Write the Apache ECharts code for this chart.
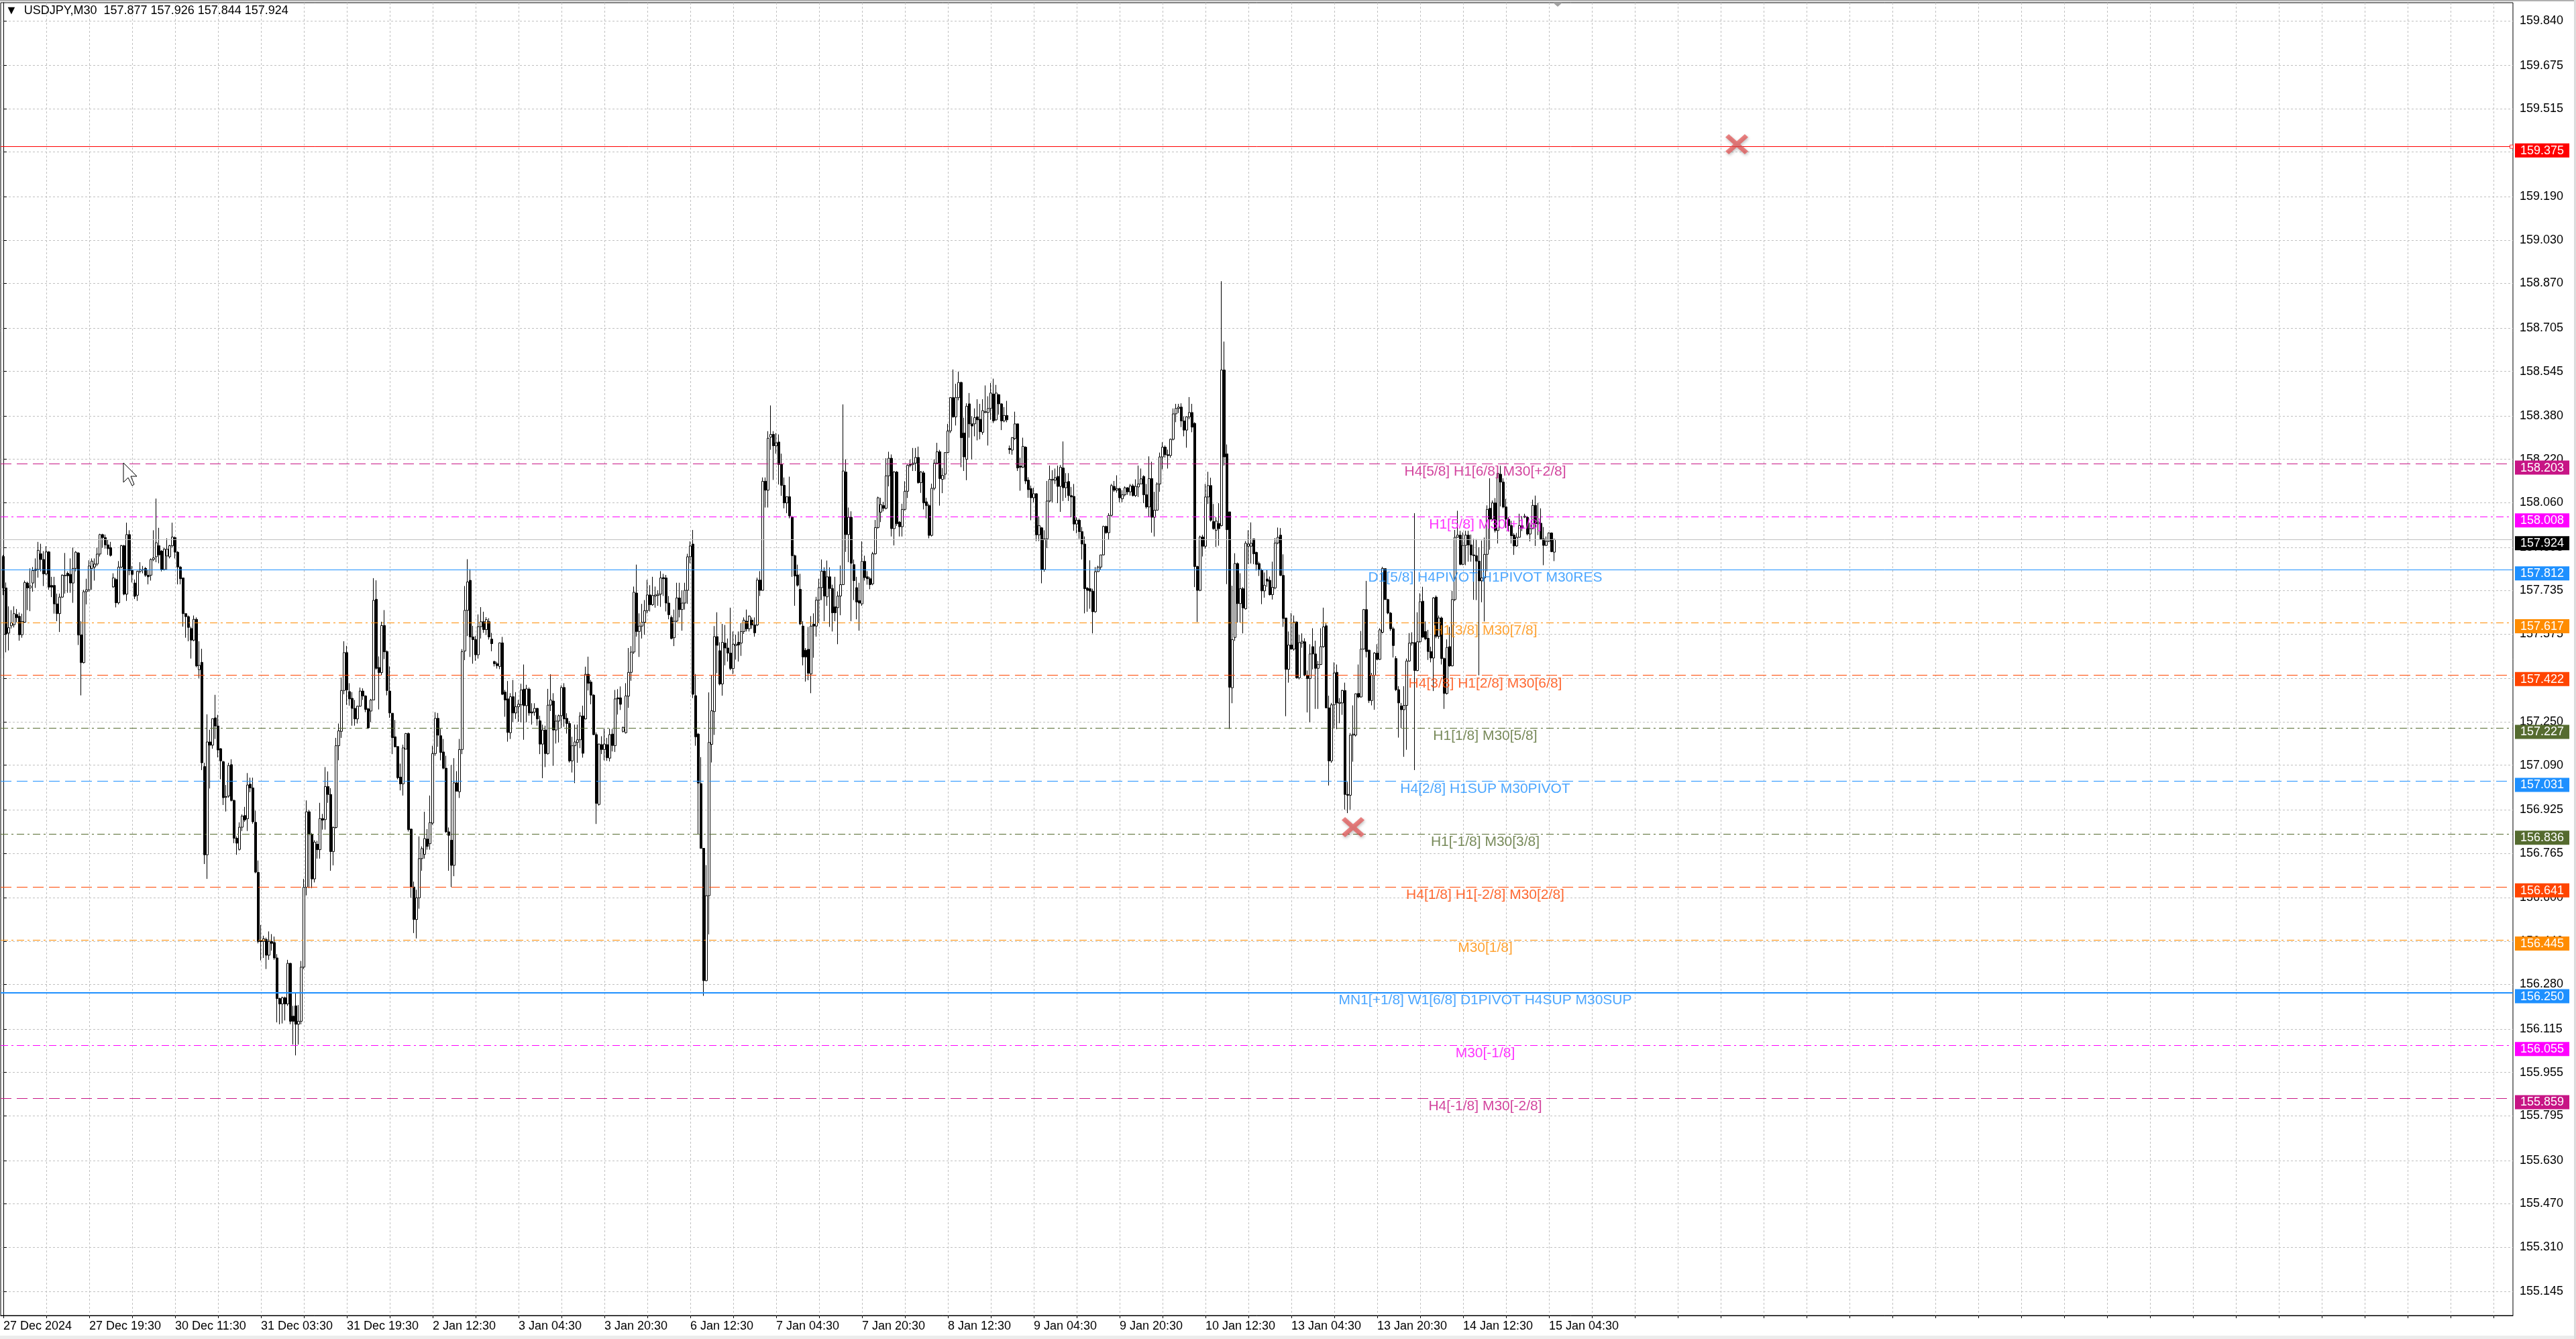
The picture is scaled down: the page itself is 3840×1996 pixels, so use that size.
<!DOCTYPE html>
<html>
<head>
<meta charset="utf-8">
<title>USDJPY,M30</title>
<script src="https://cdn.jsdelivr.net/npm/echarts@6.0.0/dist/echarts.min.js"></script>
<style>
  html, body { margin: 0; padding: 0; background: #fff; }
  #chart { width: 3840px; height: 1996px; }
</style>
</head>
<body>
<div id="chart"></div>
<script>
// M30 bars, one per row item: [open, close, low, high]
var candles = [
  // 27 Dec
  [157.861,157.745,157.718,157.867],[157.745,157.575,157.507,157.765],[157.578,157.598,157.514,157.677],[157.605,157.616,157.595,157.663],
  [157.609,157.650,157.599,157.677],[157.647,157.635,157.618,157.667],[157.640,157.572,157.550,157.654],[157.572,157.621,157.561,157.650],
  [157.618,157.765,157.616,157.772],[157.763,157.745,157.663,157.768],[157.745,157.752,157.659,157.817],[157.763,157.809,157.731,157.822],
  [157.809,157.814,157.745,157.854],[157.813,157.884,157.783,157.915],[157.871,157.850,157.806,157.908],[157.850,157.797,157.752,157.881],
  [157.797,157.878,157.792,157.899],[157.878,157.748,157.738,157.881],[157.754,157.748,157.711,157.786],[157.754,157.686,157.650,157.786],
  [157.686,157.650,157.622,157.724],[157.650,157.711,157.582,157.724],[157.711,157.792,157.708,157.795],[157.790,157.792,157.724,157.874],
  [157.799,157.790,157.727,157.806],[157.795,157.763,157.727,157.854],[157.763,157.817,157.690,157.894],[157.817,157.877,157.806,157.881],
  [157.874,157.571,157.534,157.877],[157.571,157.469,157.348,157.622],[157.469,157.731,157.466,157.738],[157.731,157.738,157.684,157.779],
  [157.738,157.826,157.731,157.847],[157.817,157.844,157.738,157.854],[157.822,157.833,157.772,157.854],[157.833,157.870,157.826,157.894],
  [157.870,157.942,157.861,157.945],[157.942,157.931,157.894,157.945],[157.931,157.904,157.890,157.942],[157.904,157.890,157.867,157.922],
  [157.894,157.865,157.861,157.915],[157.749,157.782,157.745,157.799],[157.776,157.690,157.673,157.782],[157.690,157.822,157.684,157.844],
  // 30 Dec
  [157.822,157.901,157.817,157.904],[157.901,157.722,157.718,157.904],[157.722,157.942,157.697,157.986],[157.942,157.809,157.792,157.958],
  [157.809,157.795,157.765,157.826],[157.763,157.714,157.704,157.776],[157.718,157.806,157.697,157.809],[157.806,157.813,157.799,157.840],
  [157.811,157.813,157.799,157.826],[157.817,157.792,157.786,157.822],[157.792,157.786,157.758,157.813],[157.792,157.850,157.772,157.854],
  [157.850,157.856,157.844,157.958],[157.860,157.912,157.840,158.075],[157.901,157.867,157.836,157.967],[157.881,157.813,157.806,157.885],
  [157.813,157.888,157.809,157.894],[157.863,157.888,157.813,157.928],[157.860,157.901,157.854,157.904],[157.901,157.933,157.894,157.986],
  [157.931,157.877,157.854,157.935],[157.877,157.822,157.758,157.881],[157.822,157.779,157.758,157.826],[157.782,157.650,157.602,157.782],
  [157.650,157.639,157.561,157.650],[157.639,157.599,157.548,157.643],[157.595,157.552,157.484,157.602],[157.552,157.629,157.548,157.643],
  [157.629,157.457,157.452,157.636],[157.443,157.459,157.412,157.548],[157.470,157.099,157.072,157.520],[157.085,156.759,156.725,157.099],
  [156.759,157.176,156.670,157.278],[157.176,157.164,157.004,157.221],[157.164,157.262,157.151,157.262],[157.265,157.235,157.187,157.350],
  [157.235,157.146,157.119,157.276],[157.151,157.106,157.038,157.153],[157.103,156.970,156.943,157.106],[156.974,156.972,156.919,157.017],
  [156.976,157.089,156.970,157.099],[157.092,156.960,156.956,157.112],[156.960,156.820,156.802,156.963],[156.820,156.802,156.759,156.827],
  [156.779,156.861,156.775,156.879],[156.861,156.902,156.847,156.908],[156.904,156.888,156.881,156.936],[156.892,157.017,156.847,157.061],
  [157.020,157.006,156.990,157.044],[157.006,156.881,156.874,157.044],[156.879,156.695,156.691,156.922],[156.694,156.439,156.432,156.738],
  // 31 Dec
  [156.443,156.439,156.369,156.500],[156.439,156.449,156.378,156.460],[156.446,156.388,156.337,156.453],[156.388,156.439,156.371,156.476],
  [156.439,156.432,156.405,156.466],[156.435,156.378,156.371,156.457],[156.378,156.228,156.140,156.392],[156.228,156.208,156.133,156.231],
  [156.208,156.231,156.136,156.235],[156.231,156.208,156.147,156.235],[156.208,156.358,156.201,156.371],[156.358,156.144,156.133,156.360],
  [156.163,156.144,156.058,156.201],[156.201,156.133,156.018,156.249],[156.133,156.144,156.058,156.204],[156.144,156.344,156.133,156.367],
  [156.344,156.639,156.337,156.670],[156.639,156.918,156.609,156.960],[156.918,156.834,156.636,156.925],[156.834,156.670,156.636,156.840],
  [156.670,156.806,156.657,156.813],[156.798,156.778,156.745,156.811],[156.778,156.893,156.745,156.951],[156.893,156.887,156.852,156.910],
  [156.889,157.011,156.852,157.083],[157.011,156.982,156.951,157.067],[156.982,156.771,156.700,157.005],[156.771,156.860,156.720,156.864],
  [156.860,157.162,156.856,157.191],[157.162,157.217,157.108,157.244],[157.215,157.366,157.191,157.414],[157.366,157.506,157.352,157.548],
  [157.506,157.368,157.313,157.531],[157.362,157.335,157.310,157.393],[157.337,157.300,157.236,157.360],[157.300,157.261,157.236,157.331],
  [157.261,157.308,157.244,157.310],[157.308,157.364,157.306,157.377],[157.364,157.346,157.331,157.374],[157.346,157.296,157.286,157.348],
  [157.298,157.228,157.224,157.302],[157.290,157.331,157.249,157.335],[157.331,157.699,157.331,157.781],[157.703,157.448,157.443,157.773],
  // 2 Jan
  [157.451,157.432,157.296,157.492],[157.432,157.606,157.422,157.620],[157.606,157.509,157.482,157.663],[157.510,157.366,157.348,157.514],
  [157.364,157.283,157.265,157.455],[157.282,157.192,157.131,157.282],[157.195,157.158,157.156,157.257],[157.159,157.044,157.038,157.159],
  [157.046,157.021,156.997,157.096],[157.021,157.154,156.978,157.166],[157.149,157.207,157.149,157.209],[157.207,156.852,156.845,157.211],
  [156.854,156.640,156.600,156.856],[156.640,156.520,156.470,156.660],[156.520,156.600,156.450,156.630],[156.600,156.745,156.560,156.827],
  [156.745,156.782,156.700,156.790],[156.761,156.819,156.745,156.918],[156.817,156.790,156.778,156.854],[156.800,156.878,156.778,156.978],
  [156.876,157.133,156.870,157.162],[157.133,157.263,157.125,157.286],[157.263,157.201,157.158,157.283],[157.199,157.137,157.108,157.224],
  [157.139,157.079,157.075,157.187],[157.079,156.844,156.840,157.125],[156.844,156.831,156.700,156.860],[156.813,156.720,156.640,157.091],
  [156.720,157.025,156.680,157.116],[157.025,156.994,156.993,157.068],[156.992,157.148,156.969,157.187],[157.148,157.510,157.131,157.519],
  [157.512,157.662,157.478,157.752],[157.662,157.767,157.567,157.851],[157.773,157.564,157.490,157.814],[157.564,157.554,157.465,157.605],
  // 3 Jan
  [157.554,157.498,157.476,157.567],[157.498,157.602,157.484,157.647],[157.602,157.620,157.558,157.674],[157.620,157.591,157.579,157.657],
  [157.591,157.628,157.571,157.637],[157.620,157.564,157.554,157.633],[157.556,157.539,157.511,157.579],[157.473,157.465,157.455,157.476],
  [157.465,157.458,157.447,157.472],[157.455,157.542,157.445,157.543],[157.542,157.352,157.349,157.564],[157.360,157.331,157.269,157.368],
  [157.335,157.211,157.177,157.401],[157.210,157.343,157.187,157.356],[157.343,157.283,157.250,157.405],[157.283,157.306,157.261,157.360],
  [157.306,157.315,157.250,157.331],[157.313,157.368,157.249,157.391],[157.371,157.310,157.184,157.462],[157.310,157.372,157.249,157.387],
  [157.371,157.283,157.273,157.377],[157.287,157.283,157.240,157.319],[157.286,157.300,157.273,157.319],[157.300,157.261,157.236,157.302],
  [157.254,157.168,157.131,157.273],[157.168,157.220,157.042,157.240],[157.220,157.133,157.083,157.236],[157.133,157.312,157.129,157.372],
  [157.312,157.331,157.290,157.426],[157.327,157.220,157.088,157.356],[157.220,157.253,157.170,157.276],[157.253,157.273,157.174,157.277],
  [157.273,157.377,157.228,157.385],[157.377,157.261,157.232,157.393],[157.263,157.244,157.207,157.282],[157.244,157.106,157.100,157.253],
  [157.106,157.162,157.063,157.195],[157.162,157.176,157.024,157.240],[157.174,157.184,157.099,157.240],[157.184,157.272,157.153,157.286],
  [157.272,157.134,157.118,157.310],[157.261,157.426,157.259,157.454],[157.426,157.393,157.366,157.491],[157.397,157.349,157.315,157.405],
  [157.349,157.203,157.201,157.352],[157.203,156.949,156.873,157.211],[156.945,157.168,156.941,157.170],[157.166,157.148,157.131,157.197],
  [157.148,157.168,157.108,157.225],[157.166,157.118,157.106,157.191],[157.116,157.203,157.104,157.225],[157.205,157.163,157.141,157.224],
  [157.162,157.335,157.139,157.368],[157.339,157.335,157.277,157.371],[157.339,157.315,157.294,157.381],
  // 6 Jan
  [157.215,157.230,157.211,157.232],[157.210,157.346,157.207,157.393],[157.345,157.433,157.302,157.523],[157.433,157.508,157.402,157.530],
  [157.508,157.729,157.501,157.750],[157.726,157.584,157.565,157.831],[157.584,157.604,157.490,157.651],[157.604,157.618,157.558,157.686],
  [157.618,157.661,157.572,157.700],[157.661,157.719,157.651,157.775],[157.719,157.683,157.658,157.755],[157.683,157.717,157.679,157.786],
  [157.715,157.719,157.672,157.750],[157.717,157.722,157.679,157.736],[157.722,157.782,157.675,157.807],[157.783,157.779,157.715,157.797],
  [157.782,157.689,157.658,157.793],[157.689,157.646,157.629,157.715],[157.636,157.558,157.555,157.643],[157.561,157.622,157.530,157.665],
  [157.622,157.708,157.618,157.764],[157.708,157.665,157.636,157.764],[157.665,157.689,157.587,157.736],[157.689,157.736,157.665,157.764],
  [157.736,157.860,157.686,157.871],[157.860,157.900,157.836,157.917],[157.907,157.352,157.338,157.959],[157.347,157.195,157.162,157.427],
  [157.205,157.024,156.835,157.209],[157.022,156.783,156.783,157.120],[156.783,156.294,156.238,156.783],[156.294,156.608,156.292,156.721],
  [156.608,157.174,156.465,157.359],[157.167,157.291,157.100,157.423],[157.288,157.565,157.202,157.604],[157.565,157.533,157.430,157.655],
  [157.513,157.390,157.385,157.544],[157.390,157.544,157.347,157.612],[157.541,157.523,157.459,157.608],[157.523,157.504,157.473,157.558],
  // 7 Jan
  [157.504,157.447,157.441,157.672],[157.447,157.537,157.427,157.584],[157.532,157.537,157.480,157.572],[157.544,157.534,157.473,157.584],
  [157.541,157.584,157.494,157.615],[157.584,157.626,157.575,157.636],[157.622,157.594,157.584,157.665],[157.594,157.641,157.584,157.643],
  [157.626,157.608,157.594,157.636],[157.608,157.579,157.565,157.636],[157.608,157.774,157.604,157.783],[157.774,157.736,157.715,157.807],
  [157.736,158.139,157.736,158.153],[158.139,158.106,158.042,158.153],[158.106,158.298,158.042,158.324],[158.302,158.312,158.255,158.419],
  [158.312,158.270,158.144,158.324],[158.270,158.281,158.241,158.317],[158.284,158.201,158.127,158.312],[158.201,158.124,158.085,158.241],
  [158.124,158.059,158.039,158.153],[158.059,158.082,158.021,158.082],[158.082,158.011,158.002,158.156],[158.006,157.864,157.786,158.011],
  [157.864,157.789,157.679,157.868],[157.793,157.755,157.750,157.831],[157.740,157.612,157.608,157.797],[157.604,157.490,157.459,157.622],
  [157.515,157.490,157.399,157.523],[157.518,157.430,157.404,157.601],[157.427,157.604,157.356,157.641],[157.611,157.604,157.487,157.651],
  [157.604,157.700,157.565,157.712],[157.700,157.746,157.615,157.779],[157.746,157.807,157.700,157.850],[157.807,157.715,157.622,157.821],
  [157.712,157.786,157.679,157.846],[157.786,157.743,157.601,157.821],[157.743,157.653,157.584,157.757],[157.675,157.653,157.622,157.786],
  // 8 Jan
  [157.672,157.715,157.537,157.732],[157.715,157.757,157.644,157.828],[157.757,158.177,157.757,158.423],[158.173,157.942,157.878,158.220],
  [157.942,158.006,157.840,158.042],[158.006,157.836,157.622,158.028],[157.831,157.772,157.700,157.850],[157.746,157.693,157.629,157.786],
  [157.698,157.689,157.587,157.764],[157.686,157.843,157.679,157.917],[157.843,157.783,157.772,157.864],[157.786,157.779,157.757,157.807],
  [157.779,157.757,157.740,157.786],[157.760,157.871,157.755,157.878],[157.871,157.968,157.868,157.996],[157.968,158.078,157.964,158.082],
  [158.025,158.053,157.988,158.078],[158.049,158.039,158.028,158.063],[158.039,158.159,158.035,158.224],[158.159,158.224,158.120,158.248],
  [158.224,157.964,157.935,158.238],[157.964,158.173,157.902,158.177],[158.173,157.982,157.974,158.177],[157.988,157.971,157.935,157.992],
  [157.971,158.035,157.935,158.056],[158.035,158.102,158.031,158.139],[158.102,158.198,158.077,158.201],[158.198,158.201,158.191,158.220],
  [158.201,158.206,158.177,158.262],[158.206,158.227,158.177,158.262],[158.227,158.134,158.130,158.267],[158.134,158.173,158.096,158.177],
  [158.170,158.059,158.035,158.177],[158.063,158.049,158.002,158.078],[158.049,157.939,157.928,158.056],[157.939,158.113,157.935,158.130],
  [158.113,158.206,158.106,158.220],[158.206,158.248,158.201,158.281],[158.248,158.149,158.049,158.255],[158.146,158.161,158.095,158.188],
  // 9 Jan
  [158.165,158.245,158.146,158.245],[158.245,158.325,158.243,158.351],[158.325,158.448,158.317,158.450],[158.448,158.377,158.374,158.552],
  [158.377,158.448,158.345,158.499],[158.448,158.504,158.438,158.544],[158.504,158.300,158.191,158.507],[158.317,158.229,158.177,158.374],
  [158.220,158.416,158.143,158.427],[158.425,158.351,158.300,158.465],[158.351,158.343,158.220,158.379],[158.351,158.374,158.305,158.408],
  [158.377,158.366,158.290,158.442],[158.368,158.322,158.294,158.425],[158.320,158.400,158.311,158.442],[158.393,158.396,158.391,158.493],
  [158.393,158.408,158.271,158.453],[158.408,158.465,158.366,158.502],[158.461,158.362,158.354,158.518],[158.366,158.465,158.362,158.495],
  [158.459,158.425,158.385,158.461],[158.425,158.362,158.328,158.427],[158.362,158.382,158.357,158.413],[158.382,158.366,158.357,158.436],
  [158.260,158.256,158.240,158.271],[158.254,158.300,158.237,158.302],[158.297,158.351,158.291,158.396],[158.351,158.188,158.177,158.351],
  [158.195,158.191,158.104,158.226],[158.191,158.268,158.188,158.300],[158.265,158.140,158.129,158.268],[158.143,158.108,158.078,158.154],
  [158.112,158.078,157.995,158.123],[158.078,158.093,158.061,158.115],[158.093,157.941,157.918,158.095],[157.941,157.975,157.918,158.009],
  [157.967,157.813,157.762,157.970],[157.813,157.926,157.805,157.958],[157.926,158.066,157.892,158.140],[158.066,158.146,158.061,158.197],
  [158.143,158.146,158.061,158.180],[158.143,158.152,158.129,158.186],[158.157,158.120,158.058,158.197],[158.120,158.191,158.026,158.199],
  // 10 Jan
  [158.188,158.115,158.066,158.286],[158.115,158.135,158.078,158.169],[158.138,158.086,158.066,158.169],[158.086,158.081,158.006,158.118],
  [158.083,157.981,157.956,158.129],[157.981,157.995,157.947,158.006],[157.995,157.953,157.926,158.001],[157.953,157.907,157.850,157.970],
  [157.907,157.742,157.651,157.935],[157.744,157.736,157.657,157.748],[157.742,157.733,157.668,157.847],[157.733,157.657,157.577,157.742],
  [157.657,157.805,157.653,157.822],[157.805,157.822,157.805,157.827],[157.822,157.867,157.813,157.867],[157.867,157.972,157.865,157.975],
  [157.972,157.949,157.945,157.975],[157.949,158.013,157.922,158.021],[158.013,158.123,158.009,158.129],[158.120,158.106,158.100,158.140],
  [158.106,158.112,158.097,158.161],[158.112,158.078,158.061,158.115],[158.074,158.089,158.061,158.106],[158.089,158.115,158.083,158.120],
  [158.115,158.100,158.089,158.117],[158.100,158.122,158.086,158.129],[158.122,158.086,158.083,158.129],[158.086,158.120,158.081,158.146],
  [158.118,158.129,158.081,158.197],[158.129,158.148,158.129,158.186],[158.157,158.089,158.058,158.161],[158.089,158.044,158.038,158.129],
  [158.044,158.149,158.006,158.231],[158.149,158.006,157.949,158.211],[158.006,158.032,157.935,158.100],[158.032,158.129,158.032,158.135],
  [158.129,158.229,158.100,158.245],[158.229,158.265,158.183,158.283],[158.265,158.237,158.226,158.271],[158.237,158.234,158.186,158.256],
  [158.234,158.294,158.226,158.297],[158.294,158.388,158.290,158.408],[158.388,158.408,158.357,158.425],[158.408,158.413,158.391,158.425],
  [158.413,158.362,158.339,158.427],[158.362,158.328,158.305,158.379],[158.328,158.377,158.263,158.379],[158.377,158.393,158.368,158.450],
  [158.393,158.339,158.320,158.425],[158.353,157.824,157.748,158.357],[157.824,157.736,157.619,157.827],[157.736,157.933,157.733,157.938],
  [157.933,157.899,157.861,157.941],[157.899,158.081,157.890,158.129],[158.081,158.123,158.055,158.174],[158.123,157.995,157.990,158.152],
  [157.990,157.964,157.960,158.055],[157.958,157.992,157.896,158.006],[157.983,157.964,157.901,158.058],[157.975,158.550,157.972,158.878],
  [158.550,158.229,158.197,158.655],[158.240,157.960,157.759,158.275],[158.026,157.378,157.224,158.026],[157.376,157.554,157.319,157.753],
  // 13 Jan
  [157.562,157.835,157.549,157.873],[157.835,157.687,157.617,157.839],[157.687,157.742,157.617,157.799],[157.742,157.671,157.577,157.748],
  [157.668,157.910,157.665,157.918],[157.899,157.907,157.833,157.958],[157.899,157.910,157.835,157.987],[157.926,157.871,157.833,157.926],
  [157.876,157.832,157.809,157.879],[157.835,157.811,157.789,157.842],[157.811,157.734,157.685,157.816],[157.734,157.755,157.709,157.802],
  [157.778,157.770,157.749,157.811],[157.773,157.720,157.717,157.787],[157.720,157.747,157.702,157.842],[157.745,157.911,157.740,157.929],
  [157.911,157.932,157.906,157.968],[157.940,157.791,157.789,157.966],[157.791,157.632,157.601,157.869],[157.634,157.444,157.271,157.634],
  [157.444,157.534,157.395,157.584],[157.534,157.519,157.517,157.652],[157.519,157.619,157.513,157.643],[157.619,157.413,157.410,157.621],
  [157.413,157.543,157.407,157.572],[157.541,157.548,157.524,157.577],[157.546,157.422,157.419,157.559],[157.422,157.410,157.285,157.440],
  [157.410,157.501,157.249,157.537],[157.528,157.501,157.444,157.596],[157.501,157.448,157.298,157.550],[157.448,157.462,157.298,157.475],
  [157.462,157.528,157.460,157.596],[157.528,157.601,157.524,157.672],[157.605,157.302,157.301,157.614],[157.302,157.106,157.015,157.347],
  [157.106,157.313,157.099,157.320],[157.313,157.431,157.227,157.470],[157.433,157.320,157.223,157.462],[157.318,157.322,157.245,157.338],
  [157.320,157.366,157.276,157.369],[157.366,156.982,156.926,157.395],[156.982,156.979,156.913,157.028],[156.979,157.201,156.926,157.209],
  // 14 Jan
  [157.201,157.205,157.103,157.311],[157.201,157.354,157.196,157.355],[157.355,157.342,157.338,157.462],[157.342,157.519,157.340,157.586],
  [157.519,157.665,157.517,157.667],[157.665,157.510,157.488,157.771],[157.515,157.329,157.320,157.517],[157.329,157.422,157.311,157.431],
  [157.422,157.504,157.295,157.508],[157.504,157.481,157.478,157.537],[157.481,157.590,157.479,157.596],[157.581,157.817,157.577,157.823],
  [157.816,157.702,157.701,157.817],[157.702,157.652,157.648,157.705],[157.652,157.594,157.586,157.656],[157.594,157.532,157.488,157.601],
  [157.484,157.369,157.364,157.493],[157.369,157.320,157.192,157.382],[157.309,157.295,157.227,157.320],[157.295,157.311,157.121,157.382],
  [157.311,157.475,157.147,157.484],[157.475,157.541,157.472,157.578],[157.541,157.543,157.532,157.581],[157.543,157.440,157.072,158.021],
  [157.440,157.546,157.437,157.655],[157.546,157.694,157.543,157.725],[157.696,157.563,157.561,157.749],[157.584,157.557,157.552,157.621],
  [157.559,157.510,157.479,157.590],[157.510,157.486,157.470,157.528],[157.486,157.708,157.364,157.711],[157.711,157.566,157.559,157.717],
  [157.566,157.634,157.557,157.643],[157.634,157.484,157.462,157.639],[157.484,157.355,157.298,157.488],[157.355,157.525,157.351,157.555],
  [157.528,157.457,157.453,157.601],[157.457,157.702,157.455,157.734],[157.702,157.932,157.696,157.959],[157.932,157.940,157.931,158.030],
  [157.940,157.832,157.829,157.956],[157.832,157.902,157.829,157.950],[157.902,157.940,157.829,157.956],[157.940,157.904,157.842,157.956],
  [157.904,157.867,157.842,157.942],[157.867,157.864,157.701,157.926],[157.864,157.844,157.700,157.925],[157.844,157.771,157.422,157.895],
  [157.771,157.782,157.692,157.920],[157.782,157.869,157.621,157.931],[157.869,158.035,157.807,158.050],[158.039,157.999,157.886,158.150],
  [157.999,158.059,157.993,158.068],[158.059,157.957,157.950,158.077],[157.957,158.168,157.909,158.168],[158.165,158.136,158.046,158.196],
  [158.136,158.044,158.039,158.150],[158.044,157.999,157.966,158.074],[157.999,157.975,157.953,158.006],[157.975,157.938,157.909,157.993],
  // 15 Jan
  [157.940,157.900,157.867,157.947],[157.900,157.932,157.897,157.948],[157.932,157.975,157.931,158.019],[157.975,157.966,157.955,158.010],
  [158.006,158.010,158.003,158.019],[158.006,157.944,157.939,158.010],[157.944,157.964,157.917,157.986],[157.964,158.050,157.962,158.071],
  [158.050,157.982,157.900,158.086],[157.982,157.988,157.940,158.059],[157.984,157.926,157.922,158.039],[157.926,157.902,157.829,157.970],
  [157.902,157.917,157.900,157.935],[157.917,157.948,157.915,157.950],[157.948,157.879,157.877,157.950],[157.877,157.924,157.844,157.926]
];

// time labels, one every 32 bars starting at bar 0
var tickLabels = ['27 Dec 2024', '27 Dec 19:30', '30 Dec 11:30', '31 Dec 03:30', '31 Dec 19:30', '2 Jan 12:30',
  '3 Jan 04:30', '3 Jan 20:30', '6 Jan 12:30', '7 Jan 04:30', '7 Jan 20:30', '8 Jan 12:30', '9 Jan 04:30',
  '9 Jan 20:30', '10 Jan 12:30', '13 Jan 04:30', '13 Jan 20:30', '14 Jan 12:30', '15 Jan 04:30'];

// price scale labels
var yTicks = [159.840, 159.675, 159.515, 159.355, 159.190, 159.030, 158.870, 158.705, 158.545, 158.380,
  158.220, 158.060, 157.895, 157.735, 157.575, 157.410, 157.250, 157.090, 156.925, 156.765, 156.600,
  156.440, 156.280, 156.115, 155.955, 155.795, 155.630, 155.470, 155.310, 155.145];

// horizontal levels and their captions
var levelPrices = [159.375, 158.203, 158.008, 157.812, 157.617, 157.422, 157.227, 157.031, 156.836, 156.641, 156.445, 156.250, 156.055, 155.859];
var levelNames = ['', 'H4[5/8] H1[6/8] M30[+2/8]', 'H1[5/8] M30[+1/8]', 'D1[5/8] H4PIVOT H1PIVOT M30RES',
  'H1[3/8] M30[7/8]', 'H4[3/8] H1[2/8] M30[6/8]', 'H1[1/8] M30[5/8]', 'H4[2/8] H1SUP M30PIVOT',
  'H1[-1/8] M30[3/8]', 'H4[1/8] H1[-2/8] M30[2/8]', 'M30[1/8]', 'MN1[+1/8] W1[6/8] D1PIVOT H4SUP M30SUP',
  'M30[-1/8]', 'H4[-1/8] M30[-2/8]'];

// the two red cross objects: [bar, price]
var crossMarks = [[646, 159.384], [503, 156.861]];

var symbolName = 'USDJPY,M30';

// ---- styles ----
var F = 'Liberation Sans, Arial, sans-serif';
var DASH = [16, 8], DASHDOT = [11, 5, 3, 5];
var levelStyle = [
  { c: '#FF0000', t: 'solid', w: 1 },
  { c: '#C71585', t: DASH, w: 1 },
  { c: '#FF00FF', t: DASHDOT, w: 1 },
  { c: '#1E90FF', t: 'solid', w: 1 },
  { c: '#FF8C00', t: DASHDOT, w: 1 },
  { c: '#FF4500', t: DASH, w: 1 },
  { c: '#556B2F', t: DASHDOT, w: 1 },
  { c: '#1E90FF', t: DASH, w: 1 },
  { c: '#556B2F', t: DASHDOT, w: 1 },
  { c: '#FF4500', t: DASH, w: 1 },
  { c: '#FF8C00', t: DASHDOT, w: 1 },
  { c: '#1E90FF', t: 'solid', w: 2 },
  { c: '#FF00FF', t: DASHDOT, w: 1 },
  { c: '#C71585', t: DASH, w: 1 }
];
var textBar = 552.25;   // where the captions are centred
var xMin = -1, xMax = 935.25;

var last = candles[candles.length - 1];
var lastPrice = last[1];
var header = '\u25BC  ' + symbolName + '  ' + [last[0], last[3], last[2], last[1]].map(function (v) { return v.toFixed(3); }).join(' ');

var xGrid = [], xLab = [];
for (var k = 0; k <= 928; k += 16) xGrid.push(k);
for (var k2 = 0; k2 < tickLabels.length; k2++) xLab.push(k2 * 32);

// price tag at the right edge; MT4 draws it a few pixels below the line
function priceBox(bg) {
  return {
    show: true, position: 'end', distance: 3,
    formatter: function (p) { return '{t|' + Number(p.value).toFixed(3) + '}'; },
    padding: [11, 0, 0, 0],
    rich: {
      t: {
        color: '#fff', backgroundColor: bg, padding: [2, 8, 1, 8],
        fontFamily: F, fontSize: 18, lineHeight: 18
      }
    }
  };
}

var levelLines = levelPrices.map(function (p, i) {
  var s = levelStyle[i];
  return { yAxis: p, lineStyle: { color: s.c, type: s.t, width: s.w }, label: priceBox(s.c) };
});
levelLines.push({ yAxis: lastPrice, lineStyle: { color: '#C0C0C0', type: 'solid', width: 1 }, label: priceBox('#000') });

var captions = [];
levelPrices.forEach(function (p, i) {
  if (levelNames[i]) captions.push({ value: [textBar, p], name: levelNames[i], label: { color: levelStyle[i].c } });
});

var chart = echarts.init(document.getElementById('chart'), null, { renderer: 'canvas' });
var option = {
  animation: false,
  backgroundColor: '#ffffff',
  title: {
    text: header, left: 8, top: 7, padding: 0,
    textStyle: { fontFamily: F, fontSize: 18, fontWeight: 'normal', color: '#000' }
  },
  grid: { left: 1, right: 94, top: 4, bottom: 35, show: true, borderColor: '#000', borderWidth: 1 },
  xAxis: {
    type: 'value', min: xMin, max: xMax,
    axisLine: { show: true, onZero: false, lineStyle: { color: '#000', width: 1 } },
    axisTick: { show: true, length: 4, customValues: xGrid, lineStyle: { color: '#000' } },
    axisLabel: {
      customValues: xLab,
      formatter: function (v) { return tickLabels[Math.round(v / 32)] || ''; },
      align: 'left', margin: 7, fontFamily: F, fontSize: 18, color: '#000'
    },
    splitLine: { show: true, lineStyle: { color: '#C0C0C0', type: [3, 3], width: 1 } }
  },
  yAxis: {
    type: 'value', position: 'right', min: 155.057, max: 159.907,
    axisLine: { show: true, lineStyle: { color: '#000', width: 1 } },
    axisTick: { show: true, length: 5, customValues: yTicks, lineStyle: { color: '#000' } },
    axisLabel: {
      customValues: yTicks,
      formatter: function (v) { return v.toFixed(3); },
      margin: 10, fontFamily: F, fontSize: 18, color: '#000'
    },
    splitLine: { show: true, lineStyle: { color: '#C0C0C0', type: [3, 3], width: 1 } }
  },
  series: [
    {
      name: 'levels', type: 'line', data: [], z: 2, clip: false, silent: true,
      markLine: { silent: true, symbol: 'none', precision: 3, animation: false, data: levelLines }
    },
    {
      name: symbolName, type: 'candlestick', z: 3, silent: true, large: false,
      data: candles.map(function (c, i) { return [i, c[0], c[1], c[2], c[3]]; }),
      encode: { x: 0, y: [1, 2, 3, 4] },
      barWidth: 3,
      itemStyle: { color: '#ffffff', color0: '#000000', borderColor: '#000000', borderColor0: '#000000', borderWidth: 1 }
    },
    {
      name: 'captions', type: 'scatter', z: 4, silent: true, clip: false,
      symbolSize: 1, itemStyle: { color: 'transparent' },
      data: captions,
      label: { show: true, position: 'bottom', distance: 1, formatter: '{b}', fontFamily: F, fontSize: 21 }
    },
    {
      name: 'crosses', type: 'scatter', z: 5, silent: true, clip: false,
      symbol: 'path://M0,1.5 L1.5,0 L5,3.5 L8.5,0 L10,1.5 L6.5,5 L10,8.5 L8.5,10 L5,6.5 L1.5,10 L0,8.5 L3.5,5 Z',
      symbolSize: [34, 30],
      data: crossMarks,
      itemStyle: { color: 'rgba(228,76,76,0.85)', shadowBlur: 4, shadowColor: 'rgba(0,0,0,0.35)', shadowOffsetX: 1, shadowOffsetY: 2 }
    },
    {
      name: 'lineEnd', type: 'scatter', z: 5, silent: true, clip: false,
      symbol: 'rect', symbolSize: 5,
      data: [[xMax - 0.5, levelPrices[0]]],
      itemStyle: { color: '#ffffff', borderColor: '#FF0000', borderWidth: 1 }
    }
  ],
  graphic: [
    { type: 'rect', shape: { x: 0, y: 0, width: 3840, height: 2 }, style: { fill: '#b0b0b0' }, z: 50 },
    { type: 'rect', shape: { x: 0, y: 1991, width: 3840, height: 5 }, style: { fill: '#ececec' }, z: 50 },
    { type: 'rect', shape: { x: 3837, y: 0, width: 3, height: 1996 }, style: { fill: '#dcdcdc' }, z: 50 },
    { type: 'polygon', shape: { points: [[2315, 4], [2329, 4], [2322, 10]] }, style: { fill: '#a0a0a0' }, z: 50 },
    {
      type: 'polygon', x: 184, y: 690,
      shape: { points: [[0, 0], [0, 29], [7, 22], [13, 34], [16, 32], [11, 20], [20, 20]] },
      style: { fill: '#ffffff', stroke: '#000000', lineWidth: 1 }, z: 60
    }
  ]
};
chart.setOption(option);
</script>
</body>
</html>
